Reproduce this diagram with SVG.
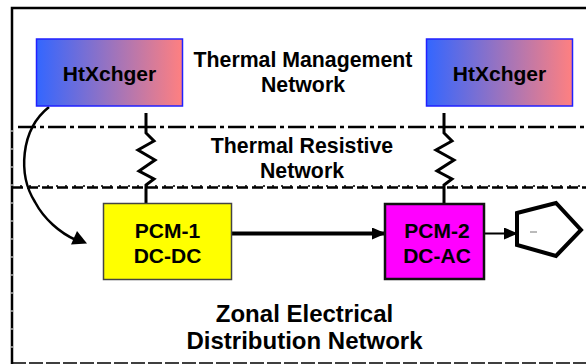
<svg xmlns="http://www.w3.org/2000/svg" width="586" height="364" viewBox="0 0 586 364">
<style>
text{font-family:"Liberation Sans",Arial,sans-serif;font-weight:700;fill:#000;text-anchor:middle}
.t19{font-size:21.300px}
.t20{font-size:21px}
.t24{font-size:24px}
.w{fill:none;stroke:#000}
.hx{fill:url(#g);stroke:#2020ff;stroke-width:1.5}
</style>
<defs>
<linearGradient id="g" x1="0" y1="0" x2="1" y2="0"><stop offset="0" stop-color="#3366ff"/><stop offset="1" stop-color="#ff8080"/></linearGradient>
<marker id="a" markerUnits="userSpaceOnUse" markerWidth="14" markerHeight="12" refX="13" refY="6" orient="auto"><path d="M0 0L14 6L0 12Z" fill="#000"/></marker>
</defs>
<g id="frame">
<path class="w" stroke-width="2.500" d="M12 364V8H586"/>
<path class="w" stroke="#222" stroke-width="1.500" stroke-dasharray="14 3" d="M12 363H586"/>
<path stroke="#fff" stroke-width="1" stroke-dasharray="2 16" fill="none" d="M12 130V364"/>
<path class="w" stroke-width="2.500" stroke-dasharray="18 4 4 4" d="M18 127H586"/>
<path class="w" stroke-width="2.500" stroke-dasharray="11 4" d="M12 187.500H586"/>
<path class="w" stroke-width="1.500" stroke-dasharray="2 7" d="M20 186H586"/>
</g>
<g id="connectors">
<path class="w" stroke-width="2.500" d="M49 107C20 130 18 175 35 202C44 219 60 233 76 240"/>
<path d="M87 243.500L71 244.500L77 231Z" fill="#000"/>
<path class="w" stroke-width="3" stroke-linejoin="miter" d="M146 113V133L154 141L138 150L155 160L139 171L154 179L146 185V204"/>
<path class="w" stroke-width="3" stroke-linejoin="miter" d="M444 113V133L452 141L436 150L454 160L437 171L452 179L444 185V204"/>
<path class="w" stroke-width="4" marker-end="url(#a)" d="M230 233.500H385"/>
<path class="w" stroke-width="2" marker-end="url(#a)" d="M484 233.500H517"/>
</g>
<g id="htx1"><rect class="hx" x="36.500" y="39" width="146" height="67"/><text class="t20" x="109.500" y="81">HtXchger</text></g>
<g id="htx2"><rect class="hx" x="426.500" y="39" width="146" height="67"/><text class="t20" x="499.500" y="81">HtXchger</text></g>
<g id="pcm1"><rect x="103.500" y="203.500" width="128" height="76" fill="#ff0" stroke="#444" stroke-width="1.500"/><text class="t20" x="167.500" y="237.500">PCM-1</text><text class="t20" x="167.500" y="263">DC-DC</text></g>
<g id="pcm2"><rect x="385" y="204" width="99" height="75" fill="#f0f" stroke="#111" stroke-width="2.500"/><text class="t20" x="437" y="237.500">PCM-2</text><text class="t20" x="437" y="263">DC-AC</text></g>
<g id="motor"><path d="M517 213L556 203L581 230L556 256L517 245Z" fill="#fff" stroke="#000" stroke-width="4"/><path d="M530 232H537" stroke="#777" stroke-width="1"/></g>
<g id="labels">
<text class="t19" x="303" y="66.500">Thermal Management</text>
<text class="t19" x="303" y="91.500">Network</text>
<text class="t19" x="302" y="152.500">Thermal Resistive</text>
<text class="t19" x="302" y="177.500">Network</text>
<text class="t24" x="304.500" y="321.500">Zonal Electrical</text>
<text class="t24" x="304.500" y="349">Distribution Network</text>
</g>
</svg>
